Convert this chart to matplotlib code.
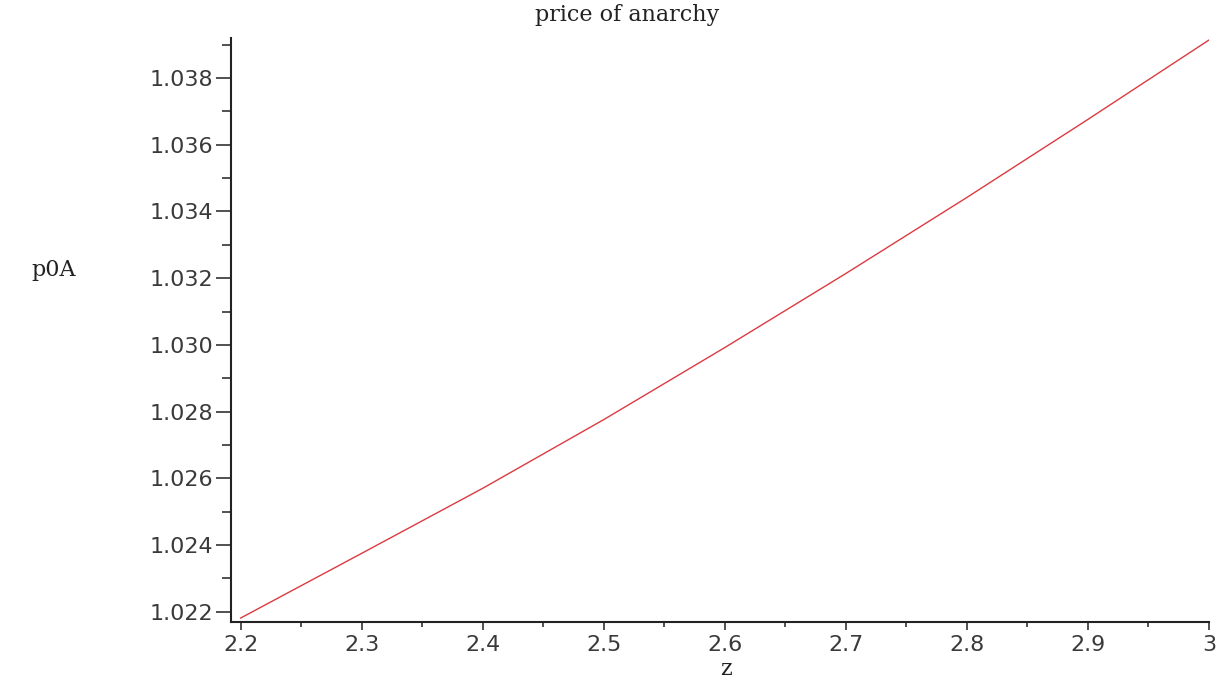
import numpy as np
import matplotlib
matplotlib.use("Agg")
import matplotlib.pyplot as plt
from matplotlib.ticker import MultipleLocator, FormatStrFormatter

# values
z = [2.2, 2.3, 2.4, 2.5, 2.6, 2.7, 2.8, 2.9, 3.0]
p0A = [1.02181, 1.02375, 1.02570, 1.02776, 1.02992, 1.03214, 1.03442, 1.03676, 1.03914]

fig = plt.figure(figsize=(12.17, 6.83), dpi=100)
ax = fig.add_axes([231 / 1217, 61.3 / 683, 978 / 1217, 583.7 / 683])

ax.plot(z, p0A, color="#dc3a40", lw=1.0)

ax.set_xlim(2.192, 3.0)
ax.set_ylim(1.0217, 1.0392)

ax.xaxis.set_major_locator(MultipleLocator(0.1))
ax.xaxis.set_minor_locator(MultipleLocator(0.05))
ax.yaxis.set_major_locator(MultipleLocator(0.002))
ax.yaxis.set_minor_locator(MultipleLocator(0.001))
ax.xaxis.set_major_formatter(FormatStrFormatter("%g"))
ax.yaxis.set_major_formatter(FormatStrFormatter("%.3f"))

for side in ["top", "right"]:
    ax.spines[side].set_visible(False)
for side in ["left", "bottom"]:
    ax.spines[side].set_linewidth(1.5)
    ax.spines[side].set_color("#222222")

ax.tick_params(axis="y", which="major", length=10.8, width=1.1, pad=2,
               labelsize=16, labelcolor="#3a3a3a", color="#222222")
ax.tick_params(axis="y", which="minor", length=6.5, width=1.1, color="#222222")
ax.tick_params(axis="x", which="major", length=5.8, width=1.1, pad=4,
               labelsize=16, labelcolor="#3a3a3a", color="#222222")
ax.tick_params(axis="x", which="minor", length=3.6, width=1.1, color="#222222")

fig.text(627 / 1217, 1 - 15 / 683, "price of anarchy", ha="center", va="center",
         family="DejaVu Serif", fontsize=16, color="#222222")
fig.text(54 / 1217, 1 - 270 / 683, "p0A", ha="center", va="center",
         family="DejaVu Serif", fontsize=16, color="#222222")
fig.text(726 / 1217, 1 - 669 / 683, "z", ha="center", va="center",
         family="DejaVu Serif", fontsize=16, color="#222222")

fig.savefig("out.png", dpi=100)
